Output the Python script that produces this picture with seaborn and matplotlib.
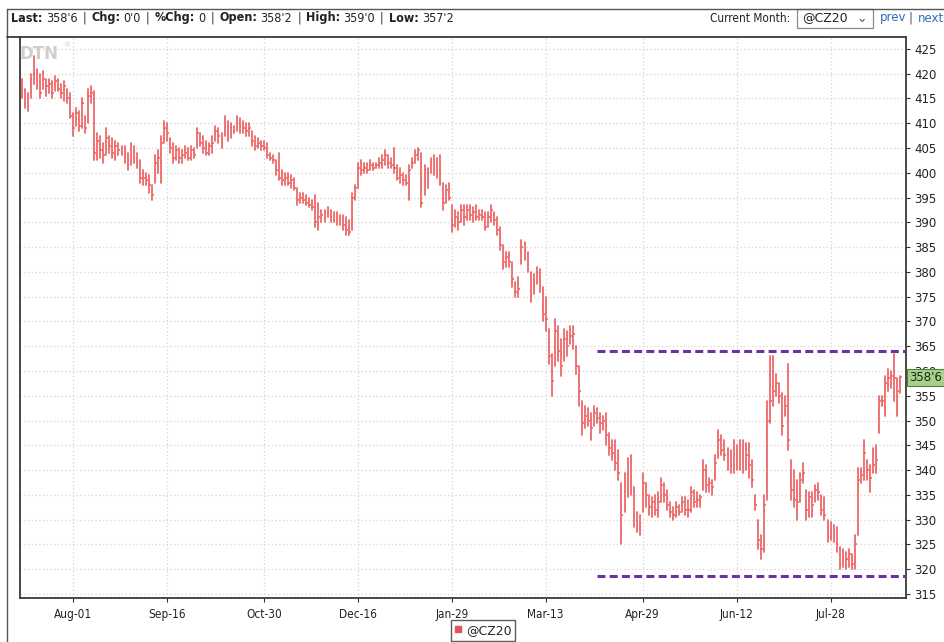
import numpy as np
import pandas as pd
import matplotlib
matplotlib.use("Agg")
import matplotlib.pyplot as plt
import matplotlib.transforms as mtransforms
from matplotlib.lines import Line2D
from matplotlib.patches import Rectangle
import seaborn as sns

# daily OHLC bars for @CZ20 (one value per trading day)
highs = [
    419, 417, 416, 420, 423.5, 421, 420, 420.5, 419, 419,
    418.5, 419.5, 419, 418, 418.5, 417, 416, 412, 413, 412.5,
    415, 411.5, 417, 417.5, 416.5, 408, 407.5, 406, 409, 407.5,
    407, 406.5, 406, 405.5, 405.5, 404, 406, 405.5, 404, 402.5,
    400.5, 400, 399.5, 397.5, 403.5, 404.5, 407.5, 410.5, 410, 407,
    406, 405.5, 405, 404.5, 405.5, 405, 405.5, 405, 409, 408,
    407.5, 406.5, 406, 407.5, 409.5, 409, 408, 411.5, 410.5, 410,
    409.5, 411.5, 411, 410.5, 410, 410, 408.5, 407.5, 407, 406.5,
    406.5, 406, 404, 403.5, 402.5, 404, 400.5, 400, 400, 399.5,
    399, 397, 396, 396, 395.5, 395, 394.5, 395.5, 394, 392.5,
    392.5, 393, 392.5, 392, 392, 391.5, 391.5, 391, 390.5, 396,
    397.5, 402, 402.5, 402, 402, 402.5, 402, 402, 403, 403.5,
    404.5, 403.5, 403, 405, 401.5, 401, 400, 399.5, 401.5, 403,
    404.5, 405, 404, 401.5, 401, 403, 403.5, 403, 403.5, 398,
    397.5, 398, 393.5, 392.5, 392, 393.5, 393.5, 393.5, 393.5, 393,
    393.5, 392.5, 392.5, 392, 392, 393.5, 392, 391, 389, 385.5,
    384, 384, 382, 378, 379, 386.5, 386, 384, 380, 379.5,
    381, 380.5, 377, 375, 368.5, 363.5, 370.5, 369, 366.5, 368.5,
    368, 369, 369, 365, 361, 354, 353, 352.5, 351.5, 353,
    352.5, 351.5, 351, 351.5, 347.5, 346, 346, 344, 337.5, 339.5,
    342.5, 343, 336.5, 331.5, 331, 339.5, 337.5, 335, 334.5, 335,
    335.5, 338.5, 337.5, 336, 333.5, 332.5, 333.5, 333, 334.5, 334.5,
    334, 336.5, 336, 335.5, 335, 342, 341, 338.5, 338, 343,
    348, 347, 346, 344.5, 344, 346, 345, 346, 346, 345.5,
    345.5, 342, 335, 330, 327, 335, 354, 363, 363, 359.5,
    357.5, 355.5, 355, 361.5, 342, 340, 338, 339.5, 341.5, 336,
    335.5, 335.5, 337, 337.5, 335, 334.5, 330, 329.5, 329, 328.5,
    324.5, 324, 323.5, 324, 323, 327, 340.5, 340.5, 346, 342,
    341, 344.5, 345, 355, 355, 359, 360.5, 360, 363.5, 358.5,
    359,
]
lows = [
    415, 413, 412.5, 415, 418, 417, 415, 417, 415.5, 416,
    415, 416.5, 416.5, 415, 414.5, 414, 411, 407.5, 409.5, 408.5,
    409, 408, 410, 414, 402.5, 402.5, 403, 402, 403.5, 404,
    403, 402.5, 403.5, 403.5, 402, 400.5, 401.5, 402, 401, 398,
    397.5, 397.5, 396, 394.5, 398, 400, 398, 406, 406.5, 404,
    402, 402.5, 402, 402, 403, 402.5, 402.5, 403, 405, 405.5,
    404, 403.5, 403.5, 404, 406.5, 406, 405, 407.5, 406.5, 407,
    408, 408.5, 408, 408, 407.5, 407.5, 405.5, 404.5, 405, 404.5,
    404.5, 403, 402.5, 402, 399.5, 398.5, 397.5, 397.5, 397.5, 397,
    396.5, 393.5, 394, 394, 393.5, 393, 392.5, 389, 388.5, 390,
    390, 391, 390, 390, 389.5, 389.5, 388.5, 387.5, 387.5, 388.5,
    394.5, 397, 399.5, 400, 400, 400.5, 400.5, 401, 401, 401,
    401.5, 401, 401, 400, 398.5, 398, 397.5, 397.5, 394.5, 401,
    402, 402.5, 393, 395.5, 397, 400, 399.5, 399, 397.5, 392.5,
    394, 394.5, 388, 389, 388.5, 390, 389.5, 390.5, 390.5, 390,
    390.5, 390.5, 390.5, 388.5, 389, 390, 389.5, 387.5, 384.5, 380.5,
    381, 381, 377, 375, 375, 381.5, 382.5, 380, 374, 375.5,
    377.5, 376, 370, 368, 361.5, 355, 361, 362, 359, 362,
    363, 365.5, 364.5, 359.5, 353, 347, 348.5, 349, 346, 349,
    349.5, 347.5, 348, 345, 343, 342, 340, 338, 325, 331.5,
    334.5, 335, 328.5, 327.5, 327, 331.5, 332.5, 331, 330.5, 331,
    330.5, 333.5, 333.5, 332, 330.5, 330, 330.5, 331, 331.5, 331,
    330.5, 331.5, 332.5, 332.5, 332.5, 336, 335.5, 335.5, 335, 338,
    342.5, 343, 342, 340, 339.5, 339.5, 340, 340, 339.5, 340,
    338.5, 336.5, 332, 324, 322, 323.5, 334, 349.5, 353, 355,
    353.5, 347, 351, 344, 334, 332.5, 330, 333.5, 337.5, 330,
    330.5, 330.5, 333.5, 334, 331, 330, 325.5, 326, 325.5, 323.5,
    320, 320.5, 320, 320.5, 320, 320, 327, 337.5, 338, 338,
    335.5, 339.5, 339.5, 347.5, 353, 351, 356, 356.5, 354, 351,
    355.5,
]
closes = [
    416.5, 414, 415, 419, 420, 419.5, 416, 419, 417.5, 418,
    416, 418.5, 417, 416, 417.5, 415, 411.5, 409, 412, 409.5,
    414, 409, 415.5, 416, 404, 406.5, 404.5, 403.5, 407, 405.5,
    404, 405.5, 404.5, 405, 403, 401.5, 404.5, 403, 402, 399,
    399, 398.5, 397.5, 395.5, 402, 403, 406, 409, 408, 405,
    403, 404.5, 403, 403.5, 404, 403, 404.5, 403.5, 408, 406,
    405, 404, 405.5, 406, 408.5, 407.5, 406, 410.5, 408, 409,
    408.5, 410.5, 409.5, 409, 408.5, 409, 406.5, 405.5, 406, 405.5,
    405, 403.5, 403, 402.5, 400.5, 399, 398.5, 399, 398, 398.5,
    397, 394.5, 395, 394.5, 394, 393.5, 393, 390, 391, 391.5,
    391, 392, 391, 390.5, 391, 390, 389.5, 388.5, 388, 395,
    397, 401, 400.5, 401, 400.5, 401.5, 401, 401.5, 402, 402.5,
    403.5, 402, 401.5, 401, 399, 399.5, 398.5, 398, 400.5, 402,
    403.5, 404.5, 394, 400.5, 399.5, 402, 402.5, 400, 398, 394,
    396.5, 395, 389.5, 391, 390, 392.5, 391, 392.5, 391.5, 392,
    391, 391.5, 391, 389, 391, 392.5, 390.5, 388.5, 385.5, 382,
    383, 382, 378.5, 376, 376.5, 385, 384.5, 381.5, 375.5, 377.5,
    380, 377, 371.5, 370.5, 363, 358, 368, 364, 361, 366.5,
    365, 367, 367.5, 361, 356, 349.5, 351, 350, 348.5, 351.5,
    350.5, 349.5, 350, 347, 344.5, 343.5, 341.5, 339.5, 331, 337,
    339, 336, 330.5, 329, 328.5, 337.5, 335, 332.5, 333.5, 332,
    333.5, 337, 335, 333, 331.5, 331, 332.5, 331.5, 333.5, 332,
    332, 335.5, 333.5, 334, 334.5, 340, 337, 337.5, 336.5, 341.5,
    346, 344, 343, 342, 341, 343, 341.5, 343.5, 342, 343,
    341, 338, 333, 326, 324, 333, 350, 354, 356, 357.5,
    355, 349, 353, 346, 336, 334, 333.5, 338, 339.5, 332,
    334.5, 333, 336, 335.5, 332, 331, 326.5, 328, 327, 325,
    321, 322.5, 322, 323, 321, 325, 338, 339, 343.5, 340,
    338.5, 341, 342, 354, 354, 357.5, 358.5, 359, 358.5, 356,
    358.75,
]
assert len(highs) == len(lows) == len(closes)

date_labels = ["Aug-01", "Sep-16", "Oct-30", "Dec-16", "Jan-29",
               "Mar-13", "Apr-29", "Jun-12", "Jul-28"]
date_label_bars = [17, 48, 80, 111, 142, 173, 205, 236, 267]
price_ticks = list(range(315, 430, 5))

# support / resistance lines drawn on the chart
range_high = 364
range_low = 318.6
range_start_bar = 190

last_label = "358'6"
last_price = 358.75
symbol = "@CZ20"

header_runs = [("Last:", "bold"), ("358'6", "normal"), ("|", "normal"),
               ("Chg:", "bold"), ("0'0", "normal"), ("|", "normal"),
               ("%Chg:", "bold"), ("0", "normal"), ("|", "normal"),
               ("Open:", "bold"), ("358'2", "normal"), ("|", "normal"),
               ("High:", "bold"), ("359'0", "normal"), ("|", "normal"),
               ("Low:", "bold"), ("357'2", "normal")]

bars = pd.DataFrame({"bar": np.arange(len(closes)), "high": highs,
                     "low": lows, "close": closes})
long_df = bars.melt(id_vars="bar", value_vars=["high", "low"],
                    value_name="price")

W, H = 945, 642
sns.set_theme(style="white")
plt.rcParams["font.family"] = ["DejaVu Sans"]

fig = plt.figure(figsize=(W / 100, H / 100), dpi=100)
fig.patch.set_facecolor("white")

def fx(px):
    return px / W

def fy(py):
    return 1 - py / H

ax_left, ax_right, ax_top, ax_bottom = 20, 906, 37, 598
ax = fig.add_axes([fx(ax_left), fy(ax_bottom), fx(ax_right - ax_left),
                   (ax_bottom - ax_top) / H])
ax.set_facecolor("white")

bar_color = "#ee6868"
sns.lineplot(data=long_df, x="bar", y="price", units="bar", estimator=None,
             color=bar_color, lw=1.3, legend=False, ax=ax)
ax.hlines(bars["close"], bars["bar"], bars["bar"] + 0.6,
          color=bar_color, lw=1.2)

ax.set_xlim(-0.5, len(closes) + 0.9)
ax.set_ylim(314.2, 427.4)

ax.hlines([range_high, range_low], range_start_bar, len(closes) + 0.9,
          colors="#7030a0", linestyles=(0, (2.6, 1.4)), lw=2.2, zorder=4)

# grid
ax.set_xticks(date_label_bars)
ax.set_xticklabels(date_labels)
ax.set_yticks(price_ticks)
ax.yaxis.tick_right()
ax.grid(True, color="#d4d4d4", linestyle=(0, (1, 2)), lw=0.9)
ax.set_axisbelow(True)
ax.set_xlabel("")
ax.set_ylabel("")
ax.tick_params(axis="y", right=True, length=3, width=0.8, pad=3,
               labelsize=8.5, colors="#333", labelcolor="#222")
ax.tick_params(axis="x", bottom=True, length=3, width=0.8, pad=4,
               labelsize=8.5, colors="#333", labelcolor="#222")
for lab in ax.get_xticklabels():
    lab.set_fontstretch("condensed")
for sp in ax.spines.values():
    sp.set_color("#3a3a3a")
    sp.set_linewidth(1.3)

# last price flag (covers the 360 tick label, as on the original)
trans = mtransforms.blended_transform_factory(ax.transAxes, ax.transData)
ax.text(1.004, last_price, last_label, transform=trans, ha="left",
        va="center", fontsize=8.5, color="#1a2a10", zorder=10, clip_on=False,
        bbox=dict(boxstyle="square,pad=0.18", fc="#a8d08d", ec="#55803a",
                  lw=0.8))

# DTN watermark
ax.text(0.0, 0.985, "DTN", transform=ax.transAxes, ha="left", va="top",
        fontsize=12, fontweight="bold", color="#cfcfcf")
ax.text(0.05, 0.99, "\u00ae", transform=ax.transAxes, ha="left", va="top",
        fontsize=5, color="#cfcfcf")

# outer widget frame
fig.add_artist(Line2D([fx(7), fx(7)], [0, fy(9)], transform=fig.transFigure,
                      color="#555", lw=1.0))
fig.add_artist(Line2D([fx(7), 1], [fy(9), fy(9)], transform=fig.transFigure,
                      color="#555", lw=1.0))
fig.add_artist(Line2D([fx(7), fx(ax_left)], [fy(ax_top), fy(ax_top)],
                      transform=fig.transFigure, color="#3a3a3a", lw=1.3))

# header line
renderer = fig.canvas.get_renderer()

def draw_runs(x0, y0, size):
    x = x0
    for k, (s, w) in enumerate(header_runs):
        t = fig.text(fx(x), fy(y0), s, fontsize=size, fontweight=w,
                     ha="left", va="center", color="#222",
                     fontstretch="condensed")
        x += t.get_window_extent(renderer).width
        nxt = header_runs[k + 1][0] if k + 1 < len(header_runs) else ""
        x += 5 if (s == "|" or nxt == "|") else 3.5
    return x

draw_runs(11, 18, 9)

fig.text(fx(790), fy(18), "Current Month:", fontsize=8.5, ha="right",
         va="center", color="#222", fontstretch="condensed")
fig.add_artist(Rectangle((fx(797), fy(28)), fx(76), 19 / H,
                         transform=fig.transFigure, fc="white", ec="#8a8a8a",
                         lw=0.9))
fig.text(fx(802), fy(18), symbol, fontsize=9, ha="left", va="center",
         color="#222")
fig.text(fx(862), fy(19), "\u2304", fontsize=9, ha="center", va="center",
         color="#555")
link = "#2a6ebb"
fig.text(fx(880), fy(18), "prev", fontsize=8.5, ha="left", va="center",
         color=link)
fig.text(fx(911), fy(18), "|", fontsize=8.5, ha="center", va="center",
         color="#555")
fig.text(fx(918), fy(18), "next", fontsize=8.5, ha="left", va="center",
         color=link)

# legend
handle = Line2D([], [], marker="s", ls="", color="#e05555", markersize=4.5,
                label=symbol)
fig.legend(handles=[handle], loc="upper center",
           bbox_to_anchor=(fx(483), fy(620)), frameon=True, fancybox=False,
           edgecolor="#333", fontsize=9, handlelength=0.6, handletextpad=0.3,
           borderpad=0.3, borderaxespad=0)

fig.savefig("out.png", dpi=100)
